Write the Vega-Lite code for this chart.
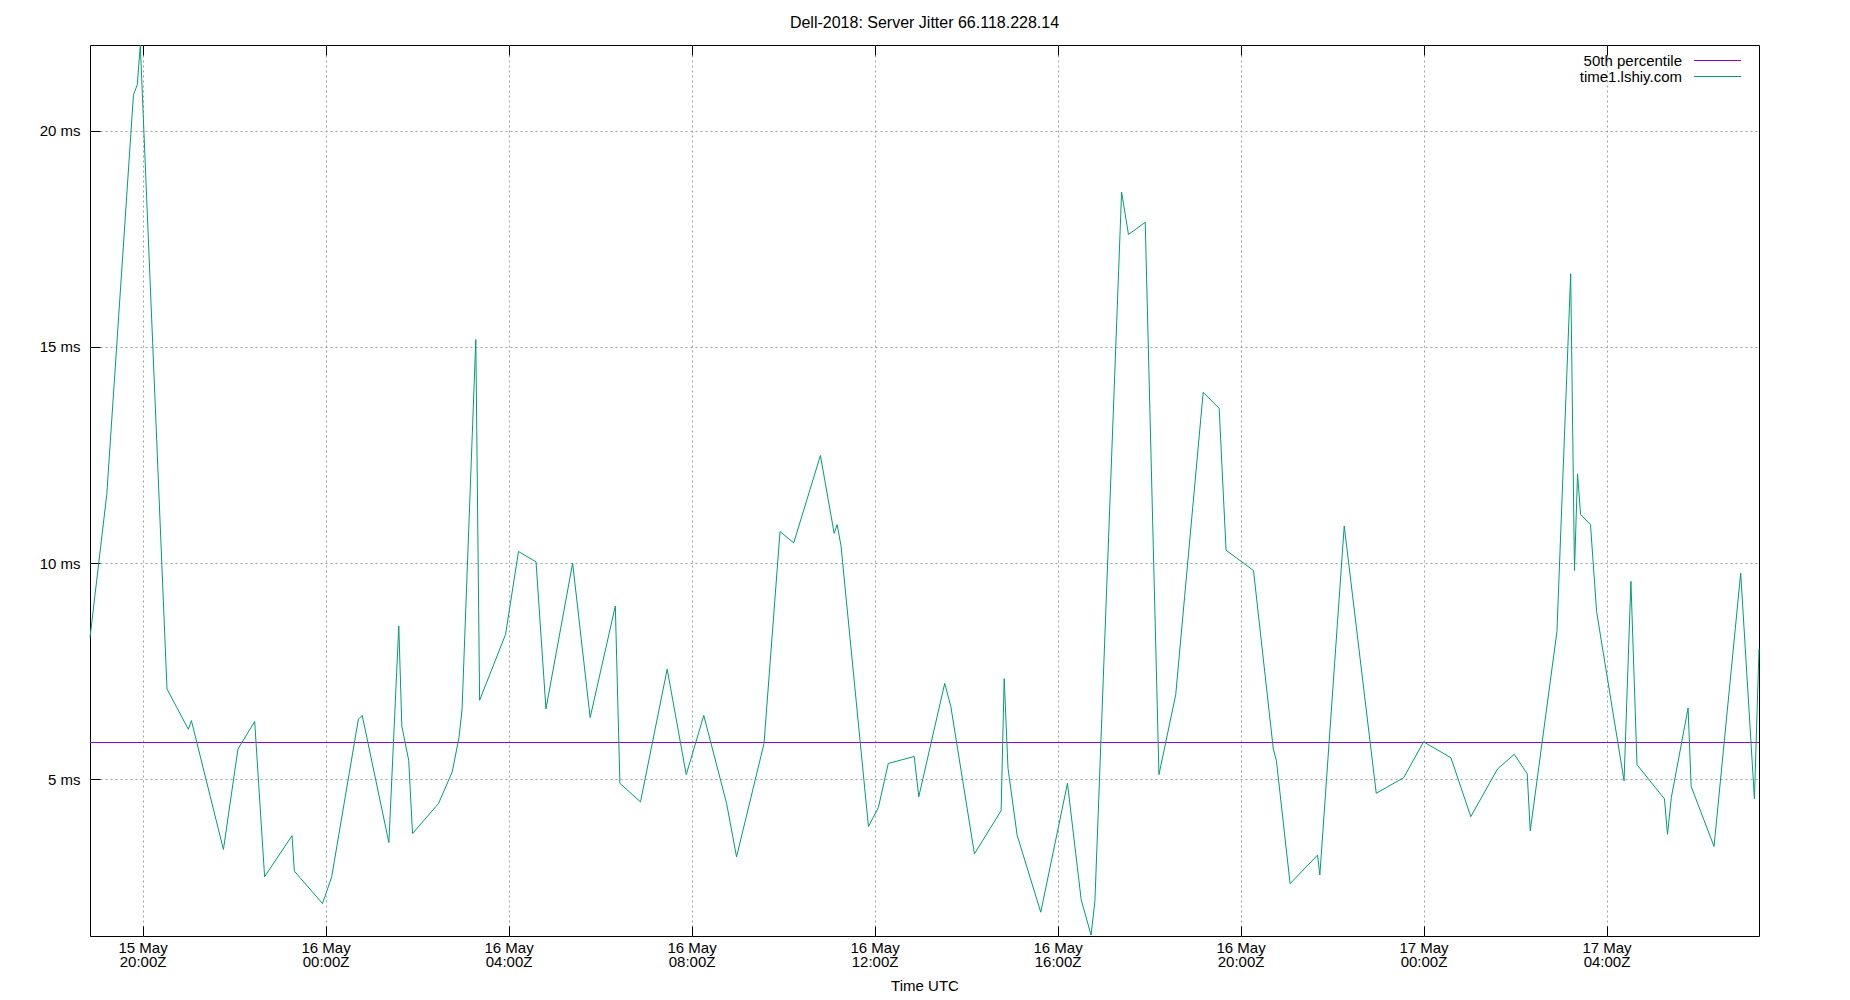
{
  "$schema": "https://vega.github.io/schema/vega-lite/v6.json",
  "width": 1669,
  "height": 891,
  "autosize": "none",
  "padding": {"left": 90, "top": 45, "right": 91, "bottom": 64},
  "background": "white",
  "title": {"text": "Dell-2018: Server Jitter 66.118.228.14", "fontSize": 16, "font": "Liberation Sans", "fontWeight": "normal", "anchor": "middle", "baseline": "bottom", "offset": 14, "dy": 18, "color": "#000000"},
  "datasets": {
    "med": [{"series": "50th percentile", "v": 5.854}],
    "jit": [
      {"t": "2018-05-15T18:51:00Z", "v": 8.28, "series": "time1.lshiy.com"},
      {"t": "2018-05-15T19:13:00Z", "v": 11.59, "series": "time1.lshiy.com"},
      {"t": "2018-05-15T19:48:00Z", "v": 20.83, "series": "time1.lshiy.com"},
      {"t": "2018-05-15T19:53:00Z", "v": 21.06, "series": "time1.lshiy.com"},
      {"t": "2018-05-15T19:57:00Z", "v": 21.98, "series": "time1.lshiy.com"},
      {"t": "2018-05-15T20:32:00Z", "v": 7.09, "series": "time1.lshiy.com"},
      {"t": "2018-05-15T21:00:00Z", "v": 6.16, "series": "time1.lshiy.com"},
      {"t": "2018-05-15T21:04:00Z", "v": 6.36, "series": "time1.lshiy.com"},
      {"t": "2018-05-15T21:46:00Z", "v": 3.38, "series": "time1.lshiy.com"},
      {"t": "2018-05-15T22:05:00Z", "v": 5.70, "series": "time1.lshiy.com"},
      {"t": "2018-05-15T22:27:00Z", "v": 6.34, "series": "time1.lshiy.com"},
      {"t": "2018-05-15T22:40:00Z", "v": 2.75, "series": "time1.lshiy.com"},
      {"t": "2018-05-15T23:16:00Z", "v": 3.70, "series": "time1.lshiy.com"},
      {"t": "2018-05-15T23:19:00Z", "v": 2.88, "series": "time1.lshiy.com"},
      {"t": "2018-05-15T23:56:00Z", "v": 2.13, "series": "time1.lshiy.com"},
      {"t": "2018-05-16T00:08:00Z", "v": 2.75, "series": "time1.lshiy.com"},
      {"t": "2018-05-16T00:43:00Z", "v": 6.39, "series": "time1.lshiy.com"},
      {"t": "2018-05-16T00:48:00Z", "v": 6.48, "series": "time1.lshiy.com"},
      {"t": "2018-05-16T01:23:00Z", "v": 3.54, "series": "time1.lshiy.com"},
      {"t": "2018-05-16T01:36:00Z", "v": 8.55, "series": "time1.lshiy.com"},
      {"t": "2018-05-16T01:40:00Z", "v": 6.23, "series": "time1.lshiy.com"},
      {"t": "2018-05-16T01:49:00Z", "v": 5.44, "series": "time1.lshiy.com"},
      {"t": "2018-05-16T01:54:00Z", "v": 3.75, "series": "time1.lshiy.com"},
      {"t": "2018-05-16T02:28:00Z", "v": 4.44, "series": "time1.lshiy.com"},
      {"t": "2018-05-16T02:46:00Z", "v": 5.17, "series": "time1.lshiy.com"},
      {"t": "2018-05-16T02:55:00Z", "v": 5.97, "series": "time1.lshiy.com"},
      {"t": "2018-05-16T02:59:00Z", "v": 6.63, "series": "time1.lshiy.com"},
      {"t": "2018-05-16T03:17:00Z", "v": 15.17, "series": "time1.lshiy.com"},
      {"t": "2018-05-16T03:22:00Z", "v": 6.83, "series": "time1.lshiy.com"},
      {"t": "2018-05-16T03:56:00Z", "v": 8.35, "series": "time1.lshiy.com"},
      {"t": "2018-05-16T04:13:00Z", "v": 10.27, "series": "time1.lshiy.com"},
      {"t": "2018-05-16T04:36:00Z", "v": 10.03, "series": "time1.lshiy.com"},
      {"t": "2018-05-16T04:49:00Z", "v": 6.63, "series": "time1.lshiy.com"},
      {"t": "2018-05-16T05:24:00Z", "v": 10.00, "series": "time1.lshiy.com"},
      {"t": "2018-05-16T05:47:00Z", "v": 6.43, "series": "time1.lshiy.com"},
      {"t": "2018-05-16T06:20:00Z", "v": 9.01, "series": "time1.lshiy.com"},
      {"t": "2018-05-16T06:26:00Z", "v": 4.91, "series": "time1.lshiy.com"},
      {"t": "2018-05-16T06:53:00Z", "v": 4.48, "series": "time1.lshiy.com"},
      {"t": "2018-05-16T07:28:00Z", "v": 7.55, "series": "time1.lshiy.com"},
      {"t": "2018-05-16T07:53:00Z", "v": 5.11, "series": "time1.lshiy.com"},
      {"t": "2018-05-16T08:16:00Z", "v": 6.48, "series": "time1.lshiy.com"},
      {"t": "2018-05-16T08:46:00Z", "v": 4.44, "series": "time1.lshiy.com"},
      {"t": "2018-05-16T08:59:00Z", "v": 3.21, "series": "time1.lshiy.com"},
      {"t": "2018-05-16T09:35:00Z", "v": 5.83, "series": "time1.lshiy.com"},
      {"t": "2018-05-16T09:56:00Z", "v": 10.73, "series": "time1.lshiy.com"},
      {"t": "2018-05-16T10:14:00Z", "v": 10.47, "series": "time1.lshiy.com"},
      {"t": "2018-05-16T10:49:00Z", "v": 12.49, "series": "time1.lshiy.com"},
      {"t": "2018-05-16T11:07:00Z", "v": 10.69, "series": "time1.lshiy.com"},
      {"t": "2018-05-16T11:11:00Z", "v": 10.89, "series": "time1.lshiy.com"},
      {"t": "2018-05-16T11:16:00Z", "v": 10.40, "series": "time1.lshiy.com"},
      {"t": "2018-05-16T11:52:00Z", "v": 3.91, "series": "time1.lshiy.com"},
      {"t": "2018-05-16T12:05:00Z", "v": 4.35, "series": "time1.lshiy.com"},
      {"t": "2018-05-16T12:18:00Z", "v": 5.37, "series": "time1.lshiy.com"},
      {"t": "2018-05-16T12:52:00Z", "v": 5.53, "series": "time1.lshiy.com"},
      {"t": "2018-05-16T12:58:00Z", "v": 4.60, "series": "time1.lshiy.com"},
      {"t": "2018-05-16T13:32:00Z", "v": 7.22, "series": "time1.lshiy.com"},
      {"t": "2018-05-16T13:40:00Z", "v": 6.69, "series": "time1.lshiy.com"},
      {"t": "2018-05-16T14:11:00Z", "v": 3.28, "series": "time1.lshiy.com"},
      {"t": "2018-05-16T14:46:00Z", "v": 4.28, "series": "time1.lshiy.com"},
      {"t": "2018-05-16T14:50:00Z", "v": 7.33, "series": "time1.lshiy.com"},
      {"t": "2018-05-16T14:55:00Z", "v": 5.26, "series": "time1.lshiy.com"},
      {"t": "2018-05-16T15:07:00Z", "v": 3.71, "series": "time1.lshiy.com"},
      {"t": "2018-05-16T15:38:00Z", "v": 1.93, "series": "time1.lshiy.com"},
      {"t": "2018-05-16T16:13:00Z", "v": 4.91, "series": "time1.lshiy.com"},
      {"t": "2018-05-16T16:31:00Z", "v": 2.22, "series": "time1.lshiy.com"},
      {"t": "2018-05-16T16:44:00Z", "v": 1.40, "series": "time1.lshiy.com"},
      {"t": "2018-05-16T16:49:00Z", "v": 2.19, "series": "time1.lshiy.com"},
      {"t": "2018-05-16T17:24:00Z", "v": 18.58, "series": "time1.lshiy.com"},
      {"t": "2018-05-16T17:33:00Z", "v": 17.60, "series": "time1.lshiy.com"},
      {"t": "2018-05-16T17:55:00Z", "v": 17.88, "series": "time1.lshiy.com"},
      {"t": "2018-05-16T18:13:00Z", "v": 5.11, "series": "time1.lshiy.com"},
      {"t": "2018-05-16T18:35:00Z", "v": 6.96, "series": "time1.lshiy.com"},
      {"t": "2018-05-16T19:11:00Z", "v": 13.95, "series": "time1.lshiy.com"},
      {"t": "2018-05-16T19:32:00Z", "v": 13.58, "series": "time1.lshiy.com"},
      {"t": "2018-05-16T19:41:00Z", "v": 10.30, "series": "time1.lshiy.com"},
      {"t": "2018-05-16T20:17:00Z", "v": 9.83, "series": "time1.lshiy.com"},
      {"t": "2018-05-16T20:43:00Z", "v": 5.70, "series": "time1.lshiy.com"},
      {"t": "2018-05-16T20:47:00Z", "v": 5.44, "series": "time1.lshiy.com"},
      {"t": "2018-05-16T21:05:00Z", "v": 2.59, "series": "time1.lshiy.com"},
      {"t": "2018-05-16T21:41:00Z", "v": 3.25, "series": "time1.lshiy.com"},
      {"t": "2018-05-16T21:44:00Z", "v": 2.79, "series": "time1.lshiy.com"},
      {"t": "2018-05-16T22:16:00Z", "v": 10.86, "series": "time1.lshiy.com"},
      {"t": "2018-05-16T22:58:00Z", "v": 4.68, "series": "time1.lshiy.com"},
      {"t": "2018-05-16T23:34:00Z", "v": 5.04, "series": "time1.lshiy.com"},
      {"t": "2018-05-17T00:00:00Z", "v": 5.87, "series": "time1.lshiy.com"},
      {"t": "2018-05-17T00:36:00Z", "v": 5.50, "series": "time1.lshiy.com"},
      {"t": "2018-05-17T01:02:00Z", "v": 4.14, "series": "time1.lshiy.com"},
      {"t": "2018-05-17T01:37:00Z", "v": 5.24, "series": "time1.lshiy.com"},
      {"t": "2018-05-17T01:59:00Z", "v": 5.58, "series": "time1.lshiy.com"},
      {"t": "2018-05-17T02:16:00Z", "v": 5.13, "series": "time1.lshiy.com"},
      {"t": "2018-05-17T02:20:00Z", "v": 3.81, "series": "time1.lshiy.com"},
      {"t": "2018-05-17T02:55:00Z", "v": 8.42, "series": "time1.lshiy.com"},
      {"t": "2018-05-17T03:13:00Z", "v": 16.69, "series": "time1.lshiy.com"},
      {"t": "2018-05-17T03:18:00Z", "v": 9.83, "series": "time1.lshiy.com"},
      {"t": "2018-05-17T03:22:00Z", "v": 12.06, "series": "time1.lshiy.com"},
      {"t": "2018-05-17T03:26:00Z", "v": 11.13, "series": "time1.lshiy.com"},
      {"t": "2018-05-17T03:39:00Z", "v": 10.89, "series": "time1.lshiy.com"},
      {"t": "2018-05-17T03:47:00Z", "v": 8.88, "series": "time1.lshiy.com"},
      {"t": "2018-05-17T04:23:00Z", "v": 4.97, "series": "time1.lshiy.com"},
      {"t": "2018-05-17T04:32:00Z", "v": 9.58, "series": "time1.lshiy.com"},
      {"t": "2018-05-17T04:40:00Z", "v": 5.34, "series": "time1.lshiy.com"},
      {"t": "2018-05-17T05:16:00Z", "v": 4.55, "series": "time1.lshiy.com"},
      {"t": "2018-05-17T05:20:00Z", "v": 3.73, "series": "time1.lshiy.com"},
      {"t": "2018-05-17T05:25:00Z", "v": 4.58, "series": "time1.lshiy.com"},
      {"t": "2018-05-17T05:47:00Z", "v": 6.65, "series": "time1.lshiy.com"},
      {"t": "2018-05-17T05:51:00Z", "v": 4.84, "series": "time1.lshiy.com"},
      {"t": "2018-05-17T06:21:00Z", "v": 3.45, "series": "time1.lshiy.com"},
      {"t": "2018-05-17T06:56:00Z", "v": 9.77, "series": "time1.lshiy.com"},
      {"t": "2018-05-17T07:14:00Z", "v": 4.55, "series": "time1.lshiy.com"},
      {"t": "2018-05-17T07:20:00Z", "v": 8.02, "series": "time1.lshiy.com"}
    ]
  },
  "layer": [
    {
      "data": {"name": "med"},
      "mark": {"type": "rule", "strokeWidth": 1},
      "encoding": {
        "y": {"field": "v", "type": "quantitative"},
        "color": {"field": "series", "type": "nominal"}
      }
    },
    {
      "data": {"name": "jit"},
      "mark": {"type": "line", "strokeWidth": 1},
      "encoding": {
        "x": {
          "field": "t",
          "type": "temporal",
          "scale": {"type": "utc", "nice": false},
          "axis": {
            "title": "Time UTC",
            "values": [
              {"year": 2018, "month": 5, "date": 15, "hours": 20, "utc": true},
              {"year": 2018, "month": 5, "date": 16, "hours": 0, "utc": true},
              {"year": 2018, "month": 5, "date": 16, "hours": 4, "utc": true},
              {"year": 2018, "month": 5, "date": 16, "hours": 8, "utc": true},
              {"year": 2018, "month": 5, "date": 16, "hours": 12, "utc": true},
              {"year": 2018, "month": 5, "date": 16, "hours": 16, "utc": true},
              {"year": 2018, "month": 5, "date": 16, "hours": 20, "utc": true},
              {"year": 2018, "month": 5, "date": 17, "hours": 0, "utc": true},
              {"year": 2018, "month": 5, "date": 17, "hours": 4, "utc": true}
            ],
            "labelExpr": "[utcFormat(datum.value, '%d %b'), utcFormat(datum.value, '%H:%MZ')]",
            "labelLineHeight": 14,
            "labelPadding": 14,
            "titlePadding": 9
          }
        },
        "y": {
          "field": "v",
          "type": "quantitative",
          "scale": {"domain": [1.38, 21.98], "nice": false, "zero": false},
          "axis": {
            "title": null,
            "values": [5, 10, 15, 20],
            "labelExpr": "datum.value + ' ms'",
            "labelPadding": 20
          }
        },
        "color": {
          "field": "series",
          "type": "nominal",
          "scale": {"domain": ["50th percentile", "time1.lshiy.com"], "range": ["#9400d3", "#009e73"]},
          "legend": {
            "title": null,
            "orient": "none",
            "legendX": 1620,
            "legendY": 8,
            "symbolType": "M-3.36,0H3.36",
            "symbolSize": 196,
            "symbolStrokeWidth": 1,
            "labelAlign": "right",
            "labelOffset": -43,
            "rowPadding": 0,
            "labelFontSize": 15,
            "labelFont": "Liberation Sans",
            "labelColor": "#000000"
          }
        }
      }
    },
    {
      "data": {"name": "jit"},
      "mark": {"type": "line", "strokeWidth": 1, "opacity": 0},
      "encoding": {
        "x": {
          "field": "t",
          "type": "temporal",
          "axis": {
            "orient": "top",
            "title": null,
            "labels": false,
            "grid": false,
            "values": [
              {"year": 2018, "month": 5, "date": 15, "hours": 20, "utc": true},
              {"year": 2018, "month": 5, "date": 16, "hours": 0, "utc": true},
              {"year": 2018, "month": 5, "date": 16, "hours": 4, "utc": true},
              {"year": 2018, "month": 5, "date": 16, "hours": 8, "utc": true},
              {"year": 2018, "month": 5, "date": 16, "hours": 12, "utc": true},
              {"year": 2018, "month": 5, "date": 16, "hours": 16, "utc": true},
              {"year": 2018, "month": 5, "date": 16, "hours": 20, "utc": true},
              {"year": 2018, "month": 5, "date": 17, "hours": 0, "utc": true},
              {"year": 2018, "month": 5, "date": 17, "hours": 4, "utc": true}
            ]
          }
        },
        "y": {"field": "v", "type": "quantitative"}
      }
    }
  ],
  "resolve": {"axis": {"x": "independent"}},
  "config": {
    "view": {"stroke": "#000000", "strokeWidth": 1},
    "axis": {
      "domain": false,
      "grid": true,
      "gridColor": "#a0a0a0",
      "gridDash": [2, 3],
      "gridWidth": 1,
      "gridOpacity": 1,
      "ticks": true,
      "tickSize": -10,
      "tickColor": "#000000",
      "tickWidth": 1,
      "labelFont": "Liberation Sans",
      "labelFontSize": 15,
      "labelColor": "#000000",
      "titleFont": "Liberation Sans",
      "titleFontSize": 15,
      "titleFontWeight": "normal",
      "titleColor": "#000000"
    }
  }
}
